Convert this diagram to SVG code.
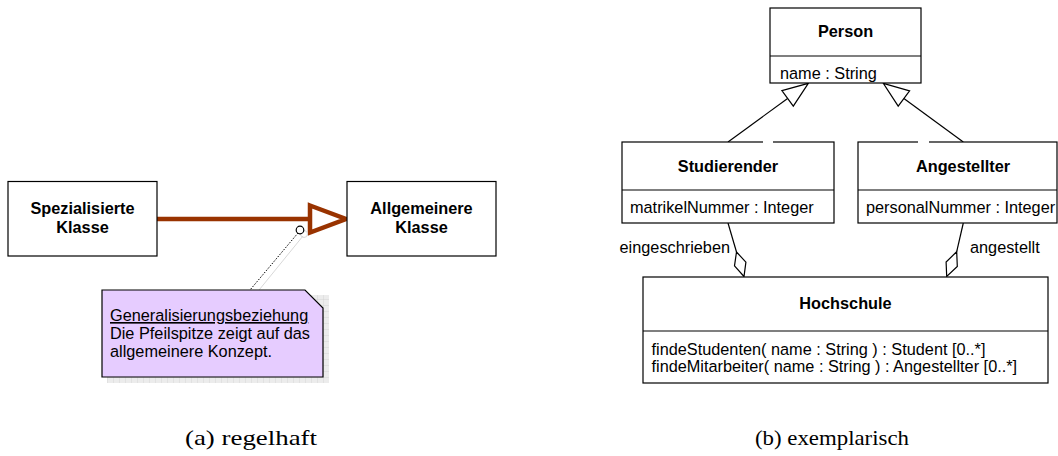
<svg xmlns="http://www.w3.org/2000/svg" width="1058" height="456" viewBox="0 0 1058 456">
<style>
.box{fill:#fff;stroke:#000;stroke-width:1.2}
.ln{stroke:#000;stroke-width:1.2;fill:none}
.t{font-family:"Liberation Sans",Arial,sans-serif;font-size:16.3px;fill:#000}
.b{font-weight:bold;text-anchor:middle}
.cap{font-family:"Liberation Serif","DejaVu Serif",serif;font-size:21px;fill:#000}
</style>
<defs>
<pattern id="grid" width="6" height="6" patternUnits="userSpaceOnUse">
<rect width="6" height="6" fill="#ececec"/>
<path d="M6 0V6M0 6H6" stroke="#cfcfcf" stroke-width="0.8"/>
</pattern>
</defs>

<g id="connectors">
<!-- generalization (a) -->
<line x1="157" y1="219" x2="310" y2="219" stroke="#993300" stroke-width="4.5"/>
<polygon points="310,205.5 346,219 310,232.5" fill="#fff" stroke="#993300" stroke-width="4.5" stroke-linejoin="miter"/>
<!-- note anchor -->
<line x1="303" y1="236" x2="255" y2="295" stroke="#d8d8d8" stroke-width="1"/>
<circle cx="304" cy="234" r="3.5" fill="none" stroke="#d8d8d8" stroke-width="1"/>
<line x1="298" y1="233" x2="250" y2="290" stroke="#000" stroke-width="1" stroke-dasharray="1.5,1.5"/>
<circle cx="300" cy="230" r="3.8" fill="#fff" stroke="#000" stroke-width="1.2"/>
<!-- generalizations (b) -->
<line class="ln" x1="787.6" y1="98.4" x2="728" y2="142"/>
<polygon class="ln" points="808.3,83.3 793.3,106.2 781.9,90.7" fill="#fff"/>
<line class="ln" x1="903.9" y1="98.5" x2="963.3" y2="142"/>
<polygon class="ln" points="883.3,83.3 909.6,90.8 898.2,106.2" fill="#fff"/>
<!-- aggregations -->
<line class="ln" x1="728" y1="223" x2="736.5" y2="252"/>
<polygon class="ln" points="736.5,252 745.9,262.2 744,276.5 734.5,265.8" fill="#fff"/>
<line class="ln" x1="963.3" y1="223" x2="956.7" y2="251.7"/>
<polygon class="ln" points="956.7,251.7 957.3,266.4 946.7,276.5 946.1,262" fill="#fff"/>
<text class="t" x="730" y="253" text-anchor="end">eingeschrieben</text>
<text class="t" x="970" y="253">angestellt</text>
</g>

<g id="spezialisierte">
<rect class="box" x="8" y="181.5" width="149" height="74.5"/>
<text class="t b" x="82.5" y="214">Spezialisierte</text>
<text class="t b" x="82.5" y="233">Klasse</text>
</g>

<g id="allgemeinere">
<rect class="box" x="347" y="181.5" width="149" height="74.5"/>
<text class="t b" x="421.5" y="214">Allgemeinere</text>
<text class="t b" x="421.5" y="233">Klasse</text>
</g>

<g id="note">
<rect x="107" y="295" width="222" height="88" fill="url(#grid)"/>
<polygon points="102,290 305,290 323,308 323,377 102,377" fill="#e6ccff" stroke="#000" stroke-width="1.2"/>
<text class="t" x="110" y="321" text-decoration="underline">Generalisierungsbeziehung</text>
<text class="t" x="110" y="339">Die Pfeilspitze zeigt auf das</text>
<text class="t" x="110" y="357">allgemeinere Konzept.</text>
</g>

<g id="person">
<rect class="box" x="770" y="8" width="151" height="75"/>
<line class="ln" x1="770" y1="56" x2="921" y2="56"/>
<text class="t b" x="845.5" y="37">Person</text>
<text class="t" x="780" y="79">name : String</text>
</g>

<g id="studierender">
<rect class="box" x="622" y="142" width="212" height="81"/>
<line class="ln" x1="622" y1="190" x2="834" y2="190"/>
<line x1="763" y1="142" x2="773" y2="142" stroke="#fff" stroke-width="3"/>
<text class="t b" x="728" y="171.5">Studierender</text>
<text class="t" x="630" y="213">matrikelNummer : Integer</text>
</g>

<g id="angestellter">
<rect class="box" x="858" y="142" width="199" height="81"/>
<line class="ln" x1="858" y1="190" x2="1057" y2="190"/>
<line x1="918" y1="142" x2="929" y2="142" stroke="#fff" stroke-width="3"/>
<text class="t b" x="963" y="171.5">Angestellter</text>
<text class="t" x="866" y="213">personalNummer : Integer</text>
</g>

<g id="hochschule">
<rect class="box" x="643" y="277" width="405" height="106"/>
<line class="ln" x1="643" y1="331" x2="1048" y2="331"/>
<text class="t b" x="845.5" y="309">Hochschule</text>
<text class="t" x="651.5" y="354.5">findeStudenten( name : String ) : Student [0..*]</text>
<text class="t" x="651.5" y="372">findeMitarbeiter( name : String ) : Angestellter [0..*]</text>
</g>

<text class="cap" x="185" y="445" textLength="132" lengthAdjust="spacingAndGlyphs">(a) regelhaft</text>
<text class="cap" x="755" y="445" textLength="154" lengthAdjust="spacingAndGlyphs">(b) exemplarisch</text>
</svg>
